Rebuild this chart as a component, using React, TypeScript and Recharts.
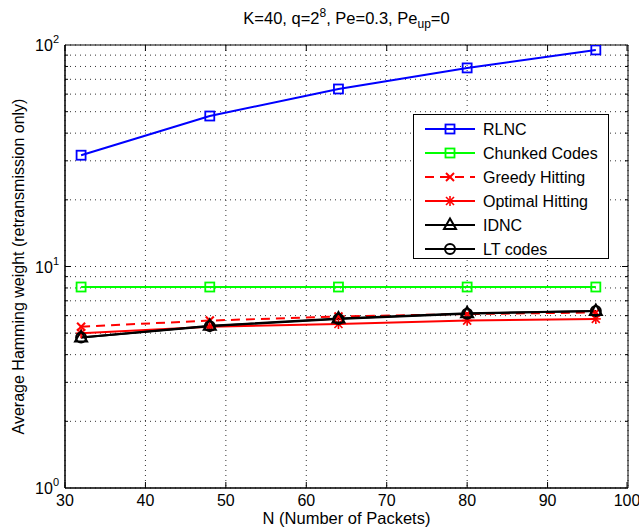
import React from 'react';
import { LineChart, Line, XAxis, YAxis, CartesianGrid, ReferenceLine } from 'recharts';

// N (number of packets) and the measured average Hamming weights
const nValues = [32, 48, 64, 80, 96];
const rlnc = [31.8, 47.8, 63.3, 78.8, 95];
const chunked = [8.08, 8.08, 8.08, 8.08, 8.08];
const greedy = [5.35, 5.7, 5.95, 6.1, 6.2];
const optimal = [5.0, 5.35, 5.5, 5.7, 5.8];
const idnc = [4.78, 5.4, 5.82, 6.15, 6.3];
const ltCodes = [4.78, 5.38, 5.8, 6.12, 6.3];

const xTicks = [30, 40, 50, 60, 70, 80, 90, 100];
const yTicks = [1, 2, 3, 4, 5, 6, 7, 8, 9, 10, 20, 30, 40, 50, 60, 70, 80, 90, 100];

const data = nValues.map((n, i) => ({
  n,
  rlnc: rlnc[i],
  chunked: chunked[i],
  greedy: greedy[i],
  optimal: optimal[i],
  idnc: idnc[i],
  lt: ltCodes[i],
}));

const W = 639;
const H = 529;
const L = 65;
const R = 628;
const T = 45;
const B = 488;
const FONT = '"Liberation Sans", Arial, sans-serif';

type MarkerKind = 'square' | 'x' | 'star' | 'triangle' | 'circle';

function Marker({ kind, cx, cy, color }: { kind: MarkerKind; cx: number; cy: number; color: string }) {
  const s = 4.5;
  if (kind === 'square')
    return <rect x={cx - s} y={cy - s} width={2 * s} height={2 * s} fill="none" stroke={color} strokeWidth={1.8} />;
  if (kind === 'x')
    return (
      <g stroke={color} strokeWidth={2}>
        <line x1={cx - 4} y1={cy - 4} x2={cx + 4} y2={cy + 4} />
        <line x1={cx - 4} y1={cy + 4} x2={cx + 4} y2={cy - 4} />
      </g>
    );
  if (kind === 'star')
    return (
      <g stroke={color} strokeWidth={1.6}>
        <line x1={cx - 4} y1={cy - 4} x2={cx + 4} y2={cy + 4} />
        <line x1={cx - 4} y1={cy + 4} x2={cx + 4} y2={cy - 4} />
        <line x1={cx - 5} y1={cy} x2={cx + 5} y2={cy} />
        <line x1={cx} y1={cy - 5} x2={cx} y2={cy + 5} />
      </g>
    );
  if (kind === 'triangle')
    return (
      <polygon
        points={`${cx},${cy - 6.5} ${cx - 6},${cy + 4} ${cx + 6},${cy + 4}`}
        fill="none"
        stroke={color}
        strokeWidth={2}
      />
    );
  return <circle cx={cx} cy={cy} r={5} fill="none" stroke={color} strokeWidth={2} />;
}

const dotFor = (kind: MarkerKind, color: string) => (p: any) => (
  <Marker key={`${kind}-${p.index}`} kind={kind} cx={p.cx} cy={p.cy} color={color} />
);

const series: { key: string; name: string; color: string; kind: MarkerKind; dash?: string }[] = [
  { key: 'rlnc', name: 'RLNC', color: '#0000ff', kind: 'square' },
  { key: 'chunked', name: 'Chunked Codes', color: '#00ff00', kind: 'square' },
  { key: 'greedy', name: 'Greedy Hitting', color: '#ff0000', kind: 'x', dash: '9 6' },
  { key: 'optimal', name: 'Optimal Hitting', color: '#ff0000', kind: 'star' },
  { key: 'idnc', name: 'IDNC', color: '#000000', kind: 'triangle' },
  { key: 'lt', name: 'LT codes', color: '#000000', kind: 'circle' },
];

const YTick = (props: any) => {
  const { y, payload } = props;
  const v = payload.value;
  const lg = Math.log10(v);
  const exp = Math.round(lg);
  const major = Math.abs(lg - exp) < 1e-6;
  const len = major ? 6 : 3;
  return (
    <g>
      {v !== 1 && v !== 100 && (
        <>
          <line x1={L} y1={y} x2={L + len} y2={y} stroke="#000" />
          <line x1={R} y1={y} x2={R - len} y2={y} stroke="#000" />
        </>
      )}
      {major && (
        <text x={L - 6} y={y + 6} textAnchor="end" fontFamily={FONT} fontSize={16} fill="#000">
          <tspan>10</tspan>
          <tspan dy={-8} fontSize={11}>{exp}</tspan>
        </text>
      )}
    </g>
  );
};

const XTick = (props: any) => {
  const { x, payload } = props;
  return (
    <g>
      <line x1={x} y1={B} x2={x} y2={B - 6} stroke="#000" />
      <line x1={x} y1={T} x2={x} y2={T + 6} stroke="#000" />
      <text x={x} y={B + 18} textAnchor="middle" fontFamily={FONT} fontSize={16} fill="#000">
        {payload.value}
      </text>
    </g>
  );
};

const LegendBox = () => (
  <svg width={196} height={145} style={{ display: 'block' }}>
    <rect x={0.5} y={0.5} width={195} height={144} fill="#fff" stroke="#000" />
    {series.map((s, i) => {
      const cy = 15 + i * 24;
      return (
        <g key={s.key}>
          <line x1={12} y1={cy} x2={62} y2={cy} stroke={s.color} strokeWidth={2} strokeDasharray={s.dash} />
          <Marker kind={s.kind} cx={37} cy={cy} color={s.color} />
          <text x={70} y={cy + 6} fontFamily={FONT} fontSize={16} fill="#000">
            {s.name}
          </text>
        </g>
      );
    })}
  </svg>
);

export default function App() {
  return (
    <div style={{ position: 'absolute', left: 0, top: 0, width: W, height: H, background: '#fff' }}>
      <div
        style={{
          position: 'absolute',
          left: L,
          width: R - L,
          top: 3,
          textAlign: 'center',
          fontFamily: FONT,
          fontSize: 16.5,
          lineHeight: '20px',
        }}
      >
        K=40, q=2<sup style={{ fontSize: 12 }}>8</sup>, Pe=0.3, Pe<sub style={{ fontSize: 12 }}>up</sub>=0
      </div>
      <LineChart width={W} height={H} data={data} margin={{ top: T, right: W - R, bottom: 0, left: 0 }}>
        <CartesianGrid stroke="#333" strokeDasharray="1 4" />
        <XAxis
          dataKey="n"
          type="number"
          domain={[30, 100]}
          ticks={xTicks}
          tick={<XTick />}
          tickLine={false}
          axisLine={{ stroke: '#000', strokeWidth: 1.5 }}
          height={H - B}
          label={{ value: 'N (Number of Packets)', position: 'insideBottom', offset: 5, fill: '#000', fontSize: 16.5, fontFamily: FONT }}
        />
        <YAxis
          type="number"
          scale="log"
          domain={[1, 100]}
          ticks={yTicks}
          interval={0}
          tick={<YTick />}
          tickLine={false}
          axisLine={{ stroke: '#000', strokeWidth: 1.5 }}
          width={L}
          allowDataOverflow
          label={{
            value: 'Average Hamming weight (retransmission only)',
            angle: -90,
            position: 'insideLeft',
            offset: 18,
            style: { textAnchor: 'middle' },
            fill: '#000',
            fontSize: 16,
            fontFamily: FONT,
          }}
        />
        <ReferenceLine y={100} stroke="#000" />
        <ReferenceLine x={100} stroke="#000" />
        {series.map((s) => (
          <Line
            key={s.key}
            dataKey={s.key}
            name={s.name}
            stroke={s.color}
            strokeWidth={2}
            strokeDasharray={s.dash}
            dot={dotFor(s.kind, s.color)}
            activeDot={false}
            isAnimationActive={false}
          />
        ))}
      </LineChart>
      <div style={{ position: 'absolute', left: 413, top: 114 }}>
        <LegendBox />
      </div>
    </div>
  );
}
